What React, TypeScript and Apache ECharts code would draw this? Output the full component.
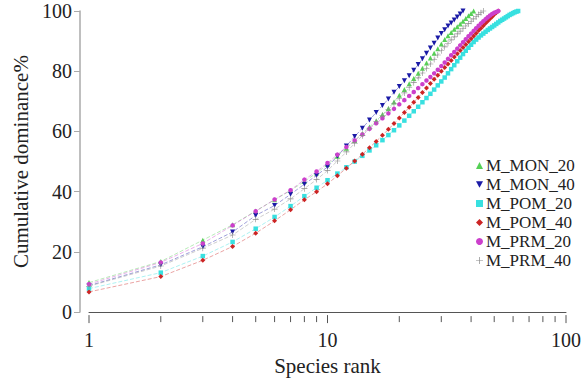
import React, { useEffect, useRef } from "react";
import * as echarts from "echarts";

// Cumulative dominance (%) by species rank (rank = index + 1)
const M_MON_20 = [9.8, 16.8, 23.9, 29.0, 33.6, 37.3, 40.4, 43.4, 46.2, 49.0, 51.8, 54.4, 57.0, 59.3, 61.5, 63.5, 65.6, 67.6, 69.8, 72.0, 73.9, 75.8, 77.6, 79.3, 81.0, 82.7, 84.4, 86.0, 87.5, 89.0, 90.5, 91.8, 92.9, 93.9, 94.8, 95.7, 96.6, 97.5, 98.4, 99.2, 100];
const M_MON_40 = [8.8, 15.7, 21.7, 26.6, 32.1, 35.4, 39.1, 42.5, 45.4, 48.2, 51.8, 55.2, 58.3, 61.1, 63.8, 66.3, 68.6, 70.8, 73.0, 74.9, 76.8, 78.5, 80.3, 82.2, 84.1, 86.0, 87.7, 89.3, 91.0, 92.5, 93.8, 95.0, 96.0, 97.0, 98.0, 99.0, 100];
const M_POM_20 = [7.8, 13.1, 18.6, 23.3, 27.7, 31.6, 35.2, 38.5, 41.3, 43.8, 46.0, 48.1, 50.0, 51.9, 53.7, 55.4, 57.1, 58.8, 60.4, 62.0, 63.6, 65.2, 66.7, 68.2, 69.7, 71.1, 72.5, 73.9, 75.3, 76.6, 77.9, 79.3, 80.7, 82.0, 83.3, 84.5, 85.7, 86.8, 87.8, 88.8, 89.7, 90.5, 91.2, 91.9, 92.5, 93.1, 93.7, 94.2, 94.7, 95.2, 95.7, 96.2, 96.7, 97.1, 97.5, 97.9, 98.3, 98.7, 99.0, 99.3, 99.6, 99.8, 100];
const M_POM_40 = [6.7, 11.8, 17.2, 21.8, 26.2, 30.3, 34.0, 37.3, 40.0, 42.6, 45.3, 47.8, 50.2, 52.4, 54.6, 56.7, 58.7, 60.7, 62.6, 64.5, 66.3, 68.0, 69.7, 71.3, 72.9, 74.4, 75.9, 77.3, 78.7, 80.0, 81.2, 82.4, 83.6, 84.7, 85.8, 86.9, 87.9, 88.9, 89.9, 90.8, 91.7, 92.6, 93.5, 94.3, 95.1, 95.9, 96.7, 97.4, 98.1, 98.8, 99.4, 100];
const M_PRM_20 = [9.3, 16.5, 22.8, 28.8, 33.5, 37.4, 40.5, 44.0, 46.7, 49.5, 52.3, 54.8, 57.0, 59.0, 60.9, 62.7, 64.4, 66.0, 67.5, 69.0, 70.4, 71.8, 73.1, 74.4, 75.7, 76.9, 78.1, 79.3, 80.5, 81.7, 82.9, 84.1, 85.3, 86.4, 87.5, 88.6, 89.6, 90.6, 91.6, 92.5, 93.4, 94.3, 95.1, 95.9, 96.6, 97.3, 97.9, 98.5, 99.0, 99.4, 99.7, 100];
const M_PRM_40 = [8.6, 15.3, 21.2, 25.6, 30.8, 34.2, 37.6, 41.0, 44.0, 47.0, 50.2, 53.2, 56.0, 58.6, 61.0, 63.2, 65.3, 67.3, 69.2, 71.0, 72.8, 74.5, 76.2, 77.8, 79.4, 80.9, 82.4, 83.9, 85.4, 86.8, 88.1, 89.3, 90.4, 91.4, 92.4, 93.3, 94.2, 95.0, 95.8, 96.6, 97.4, 98.1, 98.8, 99.4, 100];

const xTickValues = [1, 2, 3, 4, 5, 6, 7, 8, 9, 10, 20, 30, 40, 50, 60, 70, 80, 90, 100];
const xMajorTicks = [1, 10, 100];
const yTicks = [0, 20, 40, 60, 80, 100];

const FONT = "Liberation Serif";
const DOWN_TRI = "path://M0,0 L10,0 L5,9 Z";
const PLUS = "path://M4.5,0 L5.5,0 L5.5,4.5 L10,4.5 L10,5.5 L5.5,5.5 L5.5,10 L4.5,10 L4.5,5.5 L0,5.5 L0,4.5 L4.5,4.5 Z";

const seriesDefs = [
  { name: "M_MON_20", data: M_MON_20, color: "#55d055", symbol: "triangle", size: 5 },
  { name: "M_MON_40", data: M_MON_40, color: "#1a1aa6", symbol: DOWN_TRI, size: 5 },
  { name: "M_POM_20", data: M_POM_20, color: "#38e0e0", symbol: "rect", size: 4.5 },
  { name: "M_POM_40", data: M_POM_40, color: "#cc2424", symbol: "diamond", size: 5 },
  { name: "M_PRM_20", data: M_PRM_20, color: "#cc3fcc", symbol: "circle", size: 4.5 },
  { name: "M_PRM_40", data: M_PRM_40, color: "#8a8a8a", symbol: PLUS, size: 6 },
];

export default function App() {
  const ref = useRef<HTMLDivElement>(null);
  useEffect(() => {
    if (!ref.current) return;
    const chart = echarts.init(ref.current, undefined, { renderer: "svg" });
    const lineSeries = seriesDefs.map((s) => ({
      name: s.name,
      type: "line",
      data: s.data.map((v, i) => [i + 1, v]),
      symbol: s.symbol,
      symbolSize: s.size,
      showSymbol: true,
      itemStyle: { color: s.color },
      lineStyle: { color: s.color, width: 0.6, type: [4, 2], opacity: 0.7 },
      z: 3,
    }));
    const tickSeries = {
      name: "xticks",
      type: "custom",
      silent: true,
      clip: false,
      data: xTickValues.map((v) => [v, 0]),
      encode: { x: 0, y: 1 },
      renderItem: (params: any, api: any) => {
        const v = api.value(0);
        const p = api.coord([v, 0]);
        const h = xMajorTicks.indexOf(v) >= 0 ? 4 : 3;
        const y = p[1] + 7;
        return {
          type: "line",
          shape: { x1: p[0], y1: y - h, x2: p[0], y2: y + h },
          style: { stroke: "#555", lineWidth: 1 },
        };
      },
      z: 2,
    };
    chart.setOption({
      animation: false,
      backgroundColor: "#fff",
      textStyle: { fontFamily: FONT },
      grid: { left: 89, right: 17, top: 11, bottom: 68, containLabel: false },
      legend: {
        data: seriesDefs.map((s) => ({ name: s.name, icon: s.symbol })),
        orient: "vertical",
        left: 471,
        top: 152,
        itemWidth: 7,
        itemHeight: 7,
        itemGap: 2,
        textStyle: { fontFamily: FONT, fontSize: 17, color: "#222", padding: [0, 0, 0, -2] },
      },
      xAxis: {
        type: "log",
        logBase: 10,
        min: 1,
        max: 100,
        offset: 7,
        name: "Species rank",
        nameLocation: "middle",
        nameGap: 31,
        nameTextStyle: { fontFamily: FONT, fontSize: 21, color: "#222" },
        axisLine: { show: true, lineStyle: { color: "#555", width: 1 } },
        axisTick: { show: false },
        minorTick: { show: false },
        splitLine: { show: false },
        axisLabel: { fontFamily: FONT, fontSize: 20, color: "#222", margin: 11 },
      },
      yAxis: {
        type: "value",
        min: yTicks[0],
        max: yTicks[yTicks.length - 1],
        interval: 20,
        offset: 9,
        name: "Cumulative dominance%",
        nameLocation: "middle",
        nameGap: 46,
        nameTextStyle: { fontFamily: FONT, fontSize: 21, color: "#222" },
        axisLine: { show: true, lineStyle: { color: "#aaa", width: 1.5 } },
        axisTick: { show: true, inside: false, length: 6, lineStyle: { color: "#aaa", width: 1 } },
        splitLine: { show: false },
        axisLabel: { fontFamily: FONT, fontSize: 20, color: "#222", margin: 8 },
      },
      series: [...lineSeries, tickSeries],
    });
    return () => chart.dispose();
  }, []);
  return (
    <div
      ref={ref}
      style={{ position: "fixed", left: 0, top: 0, width: 584, height: 381, background: "#fff" }}
    />
  );
}
